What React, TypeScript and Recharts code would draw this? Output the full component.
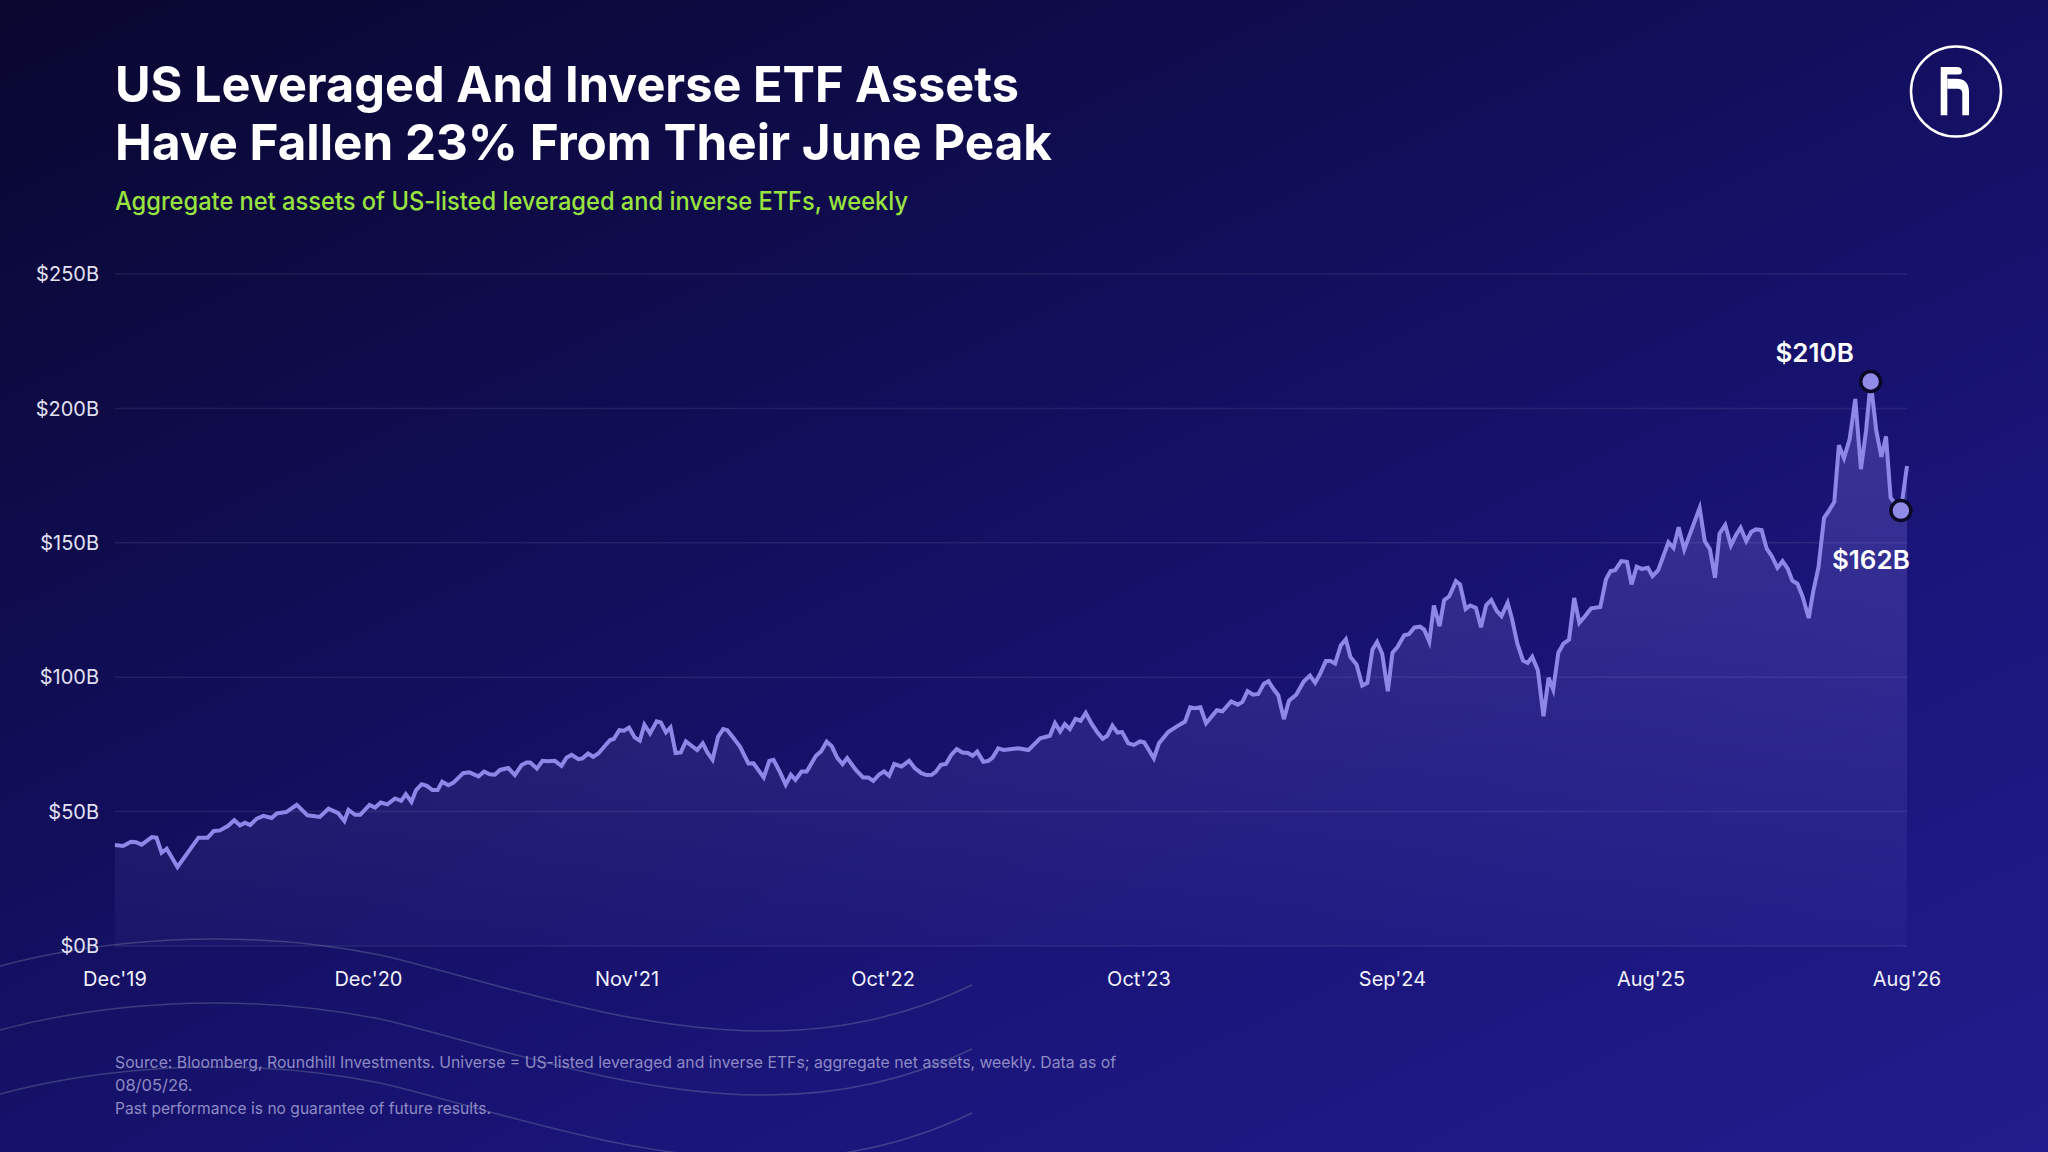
import React from "react";
import { Area, AreaChart, CartesianGrid, ReferenceDot, XAxis, YAxis } from "recharts";

// weekly aggregate net assets ($B): [week since Dec'19, value]
const period2020: [number, number][] = [
  [0, 37.6], [1.6, 37.2], [3.1, 38.8], [4.1, 38.6], [5.2, 37.7], [7.2, 40.5], [8.1, 40.3], [9.1, 34.7],
  [10.1, 36.2], [12.2, 29.4], [16.3, 40.3], [18.1, 40.3], [19.3, 42.8], [20.5, 43.0], [22.1, 44.7],
  [23.3, 46.8], [24.4, 44.9], [25.4, 45.9], [26.4, 45.0], [27.7, 47.4], [29.0, 48.4], [30.6, 47.6],
  [31.6, 49.3], [33.5, 49.9], [35.5, 52.5], [37.6, 48.6], [38.7, 48.4], [40.0, 48.0], [41.7, 51.1],
  [43.6, 49.4], [44.8, 46.5], [45.6, 50.6], [46.9, 48.8], [47.9, 48.8], [49.7, 52.5], [50.8, 51.5],
];
const period2021: [number, number][] = [
  [51.9, 53.4], [53.2, 52.7], [54.7, 54.9], [55.9, 54.0], [56.8, 56.5], [57.9, 53.6], [58.8, 58.0],
  [59.9, 60.2], [60.9, 59.6], [62.0, 58.0], [63.0, 58.0], [63.9, 61.1], [65.1, 59.8], [66.1, 60.8],
  [68.0, 64.3], [69.2, 64.6], [71.0, 63.1], [72.1, 64.9], [73.2, 63.9], [74.2, 63.7], [75.2, 65.5],
  [76.8, 66.2], [78.1, 63.6], [79.4, 67.3], [80.4, 68.3], [81.1, 68.3], [82.4, 66.0], [83.5, 68.9],
  [84.6, 68.7], [85.9, 68.9], [87.2, 67.0], [88.2, 70.1], [89.2, 71.1], [90.5, 69.5], [91.3, 69.8],
  [92.4, 71.6], [93.4, 70.4], [94.4, 71.6], [95.7, 74.5], [96.7, 76.6], [97.4, 77.0], [98.5, 80.3],
  [99.4, 80.1], [100.4, 81.3], [101.5, 77.6], [102.5, 76.4],
];
const period2022: [number, number][] = [
  [103.4, 82.3], [104.5, 79.1], [105.8, 83.6], [106.6, 83.2], [107.6, 79.5], [108.5, 81.3], [109.5, 71.8],
  [110.5, 72.0], [111.5, 76.1], [112.6, 74.5], [113.7, 72.9], [114.8, 75.4], [115.7, 72.0], [116.7, 69.3],
  [117.8, 77.9], [118.8, 80.7], [119.6, 80.3], [120.8, 77.4], [122.1, 74.1], [123.7, 67.9], [124.7, 68.0],
  [126.7, 62.7], [127.8, 68.9], [128.6, 69.3], [129.9, 64.6], [131.0, 60.0], [132.0, 63.7], [132.9, 61.8],
  [134.1, 64.9], [135.1, 64.9], [136.9, 70.8], [137.9, 72.4], [139.0, 76.0], [140.0, 74.3], [141.1, 69.9],
  [142.1, 67.7], [143.0, 69.9], [144.7, 65.5], [146.1, 62.7], [147.1, 62.7], [148.1, 61.4], [149.3, 63.9],
  [150.2, 64.9], [151.2, 63.3], [152.2, 67.7], [153.6, 66.8],
];
const period2023: [number, number][] = [
  [155.1, 68.9], [156.2, 66.2], [157.5, 64.3], [158.5, 63.6], [159.5, 63.7], [160.3, 64.8], [161.3, 67.4],
  [162.3, 67.7], [163.3, 71.0], [164.4, 73.3], [165.5, 72.0], [166.6, 71.8], [167.5, 70.8], [168.4, 72.3],
  [169.6, 68.5], [170.6, 68.9], [171.4, 70.1], [172.5, 73.5], [173.6, 72.9], [174.8, 73.2], [176.4, 73.6],
  [178.4, 72.9], [180.7, 77.3], [182.6, 78.2], [183.6, 82.9], [184.6, 79.8], [185.5, 82.5], [186.5, 80.7],
  [187.6, 84.5], [188.6, 83.8], [189.6, 86.7], [190.8, 82.5], [191.9, 79.4], [192.9, 77.1], [193.8, 78.2],
  [194.8, 82.0], [195.8, 79.4], [196.7, 79.6], [197.9, 75.4], [199.0, 74.8], [200.2, 76.1], [201.0, 75.8],
  [202.9, 69.8], [203.9, 75.4], [205.7, 79.6],
];
const period2024: [number, number][] = [
  [207.4, 81.7], [209.0, 83.5], [210.0, 88.8], [210.9, 88.5], [212.0, 88.8], [213.1, 82.9], [215.2, 87.7],
  [216.3, 87.3], [218.0, 91.0], [219.3, 89.8], [220.2, 90.8], [221.2, 94.8], [222.3, 93.5], [223.3, 93.8],
  [224.4, 97.6], [225.3, 98.5], [226.2, 95.8], [227.2, 93.3], [228.3, 84.4], [229.3, 91.3], [230.7, 93.5],
  [232.2, 98.5], [233.4, 100.6], [234.4, 97.9], [235.3, 101.0], [236.5, 106.0], [237.4, 106.0],
  [238.3, 105.1], [239.4, 111.8], [240.4, 114.1], [241.3, 107.5], [242.5, 104.7], [243.6, 96.9],
  [244.6, 97.9], [245.6, 110.3], [246.5, 113.1], [247.5, 108.7], [248.6, 94.8], [249.5, 109.1],
  [250.5, 111.3], [251.8, 115.6], [252.7, 116.0], [253.8, 118.5], [254.9, 118.8], [255.7, 117.7],
  [256.7, 113.2],
];
const period2025: [number, number][] = [
  [257.6, 126.7], [258.7, 119.0], [259.6, 128.7], [260.6, 130.1], [261.9, 135.7], [262.7, 134.5],
  [263.8, 125.4], [264.7, 126.7], [265.8, 125.8], [266.8, 118.6], [267.8, 126.8], [268.8, 128.7],
  [269.9, 124.6], [270.8, 122.7], [272.0, 127.7], [272.8, 122.1], [273.9, 112.5], [275.0, 106.2],
  [275.9, 105.3], [276.8, 107.6], [277.9, 102.6], [279.0, 85.5], [280.0, 99.8], [280.9, 95.4],
  [281.9, 109.1], [282.9, 112.5], [284.0, 114.0], [285.0, 129.5], [286.0, 120.2], [287.1, 122.7],
  [288.3, 125.6], [290.1, 126.1], [291.2, 136.4], [292.1, 139.5], [293.0, 139.8], [294.2, 143.2],
  [295.3, 142.9], [296.2, 134.5], [297.2, 141.1], [298.2, 140.3], [299.4, 140.7], [300.3, 137.6],
  [301.4, 139.8], [303.4, 150.2], [304.4, 148.1], [305.4, 155.8], [306.5, 147.5],
];
const period2026: [number, number][] = [
  [309.5, 163.0], [310.5, 150.6], [311.5, 147.6], [312.5, 137.0], [313.4, 153.5], [314.5, 156.6],
  [315.6, 149.0], [316.6, 152.9], [317.5, 155.6], [318.6, 150.6], [319.6, 154.1], [320.5, 155.0],
  [321.6, 154.7], [322.6, 147.8], [323.6, 145.0], [324.7, 140.7], [325.7, 143.2], [326.7, 140.4],
  [327.6, 135.9], [328.6, 134.8], [329.6, 130.1], [330.8, 122.0], [331.7, 132.0], [332.7, 140.7],
  [333.8, 159.3], [334.7, 161.8], [335.8, 165.2], [336.7, 186.3], [337.7, 181.5], [338.8, 188.6],
  [339.9, 203.5], [341.0, 177.4], [342.0, 191.7], [342.9, 210.0], [344.0, 191.7], [345.0, 182.0],
  [345.9, 189.6], [346.8, 166.8], [348.8, 162.0], [350.0, 178.6],
];

const xTickWeeks = [0, 49.5, 100, 150, 200, 249.5, 300, 350];
const xTickLabels = ["Dec'19", "Dec'20", "Nov'21", "Oct'22", "Oct'23", "Sep'24", "Aug'25", "Aug'26"];
const yTicks = [0, 50, 100, 150, 200, 250];

const peakWeek = 342.9;
const peakValue = 210;
const latestWeek = 348.8;
const latestValue = 162;

const data = [...period2020, ...period2021, ...period2022, ...period2023, ...period2024, ...period2025, ...period2026].map(
  ([week, assets]) => ({ week, assets })
);

const fmtB = (v: number) => `$${v}B`;

function Callout(props: any, label: string, dx: number, dy: number) {
  const { cx, cy } = props;
  return (
    <g>
      <circle cx={cx} cy={cy} r={10} fill="#908be6" stroke="#0a0826" strokeWidth={3.5} />
      <text x={cx + dx} y={cy + dy} textAnchor="middle" fill="#ffffff" fontSize={26} fontWeight={600} fontFamily="Inter">
        {label}
      </text>
    </g>
  );
}

export default function App() {
  return (
    <div
      style={{
        position: "absolute",
        left: 0,
        top: 0,
        width: 2048,
        height: 1152,
        overflow: "hidden",
        background: "linear-gradient(155deg, #09072f 0%, #110d55 35%, #1a157a 70%, #221c8c 100%)",
        fontFamily: "Inter",
      }}
    >
      {/* faint decorative waves */}
      <svg width={2048} height={1152} style={{ position: "absolute", left: 0, top: 0 }}>
        {[0, 64, 128].map((o) => (
          <path
            key={o}
            d={`M0,${966 + o} C90,${942 + o} 230,${925 + o} 380,${955 + o} C470,${975 + o} 620,${1030 + o} 760,${1031 + o} C850,${1032 + o} 920,${1010 + o} 972,${985 + o}`}
            fill="none"
            stroke="rgba(150,175,185,0.28)"
            strokeWidth={1.5}
          />
        ))}
      </svg>

      <div style={{ position: "absolute", left: 0, top: 0 }}>
        <AreaChart width={2048} height={1152} data={data} margin={{ top: 274, right: 141, bottom: 166, left: 0 }}>
          <defs>
            <linearGradient id="areaFill" x1="0" y1="0" x2="0" y2="1">
              <stop offset="0%" stopColor="#8c82eb" stopOpacity={0.52} />
              <stop offset="100%" stopColor="#8c82eb" stopOpacity={0.08} />
            </linearGradient>
          </defs>
          <CartesianGrid vertical={false} stroke="rgba(255,255,255,0.08)" strokeWidth={1.5} />
          <XAxis
            type="number"
            dataKey="week"
            domain={[0, 350]}
            ticks={xTickWeeks}
            tickFormatter={(v: number) => xTickLabels[xTickWeeks.indexOf(v)]}
            axisLine={false}
            tickLine={false}
            tickSize={0}
            tickMargin={26}
            height={40}
            interval={0}
            tick={{ fill: "#f0f0fa", fontSize: 20, fontFamily: "Inter" }}
          />
          <YAxis
            domain={[0, 250]}
            ticks={yTicks}
            tickFormatter={fmtB}
            axisLine={false}
            tickLine={false}
            tickSize={0}
            tickMargin={16}
            width={115}
            interval={0}
            tick={{ fill: "#e2e1f2", fontSize: 20, fontFamily: "Inter" }}
          />
          <Area
            type="linear"
            dataKey="assets"
            stroke="#8d88e8"
            strokeWidth={4}
            fill="url(#areaFill)"
            dot={false}
            activeDot={false}
            isAnimationActive={false}
          />
          <ReferenceDot x={peakWeek} y={peakValue} shape={(p: any) => Callout(p, fmtB(peakValue), -56, -20)} />
          <ReferenceDot x={latestWeek} y={latestValue} shape={(p: any) => Callout(p, fmtB(latestValue), -30, 58)} />
        </AreaChart>
      </div>

      {/* title, subtitle, footnote, logo */}
      <svg width={2048} height={1152} style={{ position: "absolute", left: 0, top: 0, pointerEvents: "none" }}>
        <text x={115} y={102} fill="#ffffff" fontSize={50} fontWeight={700} fontFamily="Inter" textLength={904} lengthAdjust="spacingAndGlyphs">
          US Leveraged And Inverse ETF Assets
        </text>
        <text x={115} y={160} fill="#ffffff" fontSize={50} fontWeight={700} fontFamily="Inter" textLength={937} lengthAdjust="spacingAndGlyphs">
          Have Fallen 23% From Their June Peak
        </text>
        <text x={115} y={210} fill="#98e33f" fontSize={25} fontWeight={500} fontFamily="Inter" textLength={793} lengthAdjust="spacingAndGlyphs">
          Aggregate net assets of US-listed leveraged and inverse ETFs, weekly
        </text>
        <g fill="#8e8ac4" fontSize={16.5} fontFamily="Inter">
          <text x={115} y={1068} textLength={1001} lengthAdjust="spacingAndGlyphs">
            Source: Bloomberg, Roundhill Investments. Universe = US-listed leveraged and inverse ETFs; aggregate net assets, weekly. Data as of
          </text>
          <text x={115} y={1091}>08/05/26.</text>
          <text x={115} y={1114} textLength={376} lengthAdjust="spacingAndGlyphs">
            Past performance is no guarantee of future results.
          </text>
        </g>
        <circle cx={1956} cy={91.5} r={45} fill="none" stroke="#ffffff" strokeWidth={2.5} />
        <path d="M1940.7,67 H1957 Q1962,67 1962,71.5 Q1962,74.5 1958.5,74.5 H1947.3 V115.3 H1940.7 Z" fill="#ffffff" />
        <path d="M1947.3,78.7 H1956 Q1969,78.7 1969,92 V115.3 H1962.3 V93.5 Q1962.3,88.7 1957.5,88.7 H1947.3 Z" fill="#ffffff" />
      </svg>
    </div>
  );
}
